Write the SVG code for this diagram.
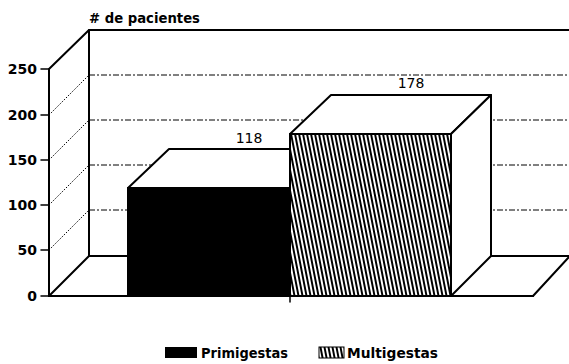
<svg xmlns="http://www.w3.org/2000/svg" width="569" height="364" viewBox="0 0 569 364">
<style>
.solid{stroke:#000;stroke-width:2;fill:none;stroke-linecap:round;stroke-linejoin:round}
.grid{stroke:#000;stroke-width:1;stroke-dasharray:6 2 2 2;fill:none}
.dot{stroke:#000;stroke-width:1;stroke-dasharray:1.5 1.5;fill:none}
.tick{font-family:"DejaVu Sans",sans-serif;font-weight:bold;font-size:14px;text-anchor:end;fill:#000}
.val{font-family:"DejaVu Sans",sans-serif;font-size:14px;text-anchor:middle;fill:#000}
.leg{font-family:"DejaVu Sans",sans-serif;font-weight:bold;font-size:13.5px;fill:#000}
</style>
<defs>
<pattern id="hatch" patternUnits="userSpaceOnUse" width="4" height="40" patternTransform="skewX(11)">
<rect x="0" y="0" width="4" height="40" fill="#fff"/>
<rect x="0" y="0" width="2" height="40" fill="#000"/>
</pattern>
</defs>
<rect width="569" height="364" fill="#fff"/>
<g id="grid">
<line class="grid" x1="89" y1="75" x2="569" y2="75"/>
<line class="grid" x1="89" y1="120" x2="569" y2="120"/>
<line class="grid" x1="89" y1="165" x2="569" y2="165"/>
<line class="grid" x1="89" y1="210" x2="569" y2="210"/>
<line class="dot" x1="49" y1="115" x2="89" y2="75"/>
<line class="dot" x1="49" y1="160" x2="89" y2="120"/>
<line class="dot" x1="49" y1="205" x2="89" y2="165"/>
<line class="dot" x1="49" y1="250" x2="89" y2="210"/>
</g>
<g id="axes">
<polyline class="solid" points="49,296 49,69 89,30 569,30"/>
<line class="solid" x1="89" y1="30" x2="89" y2="256"/>
<line class="solid" x1="89" y1="256" x2="569" y2="256"/>
<line class="solid" x1="49" y1="296" x2="89" y2="256"/>
<line class="solid" x1="49" y1="296" x2="533" y2="296"/>
<line class="solid" x1="533" y1="296" x2="569" y2="257"/>
<line class="solid" x1="290" y1="296" x2="290" y2="302" style="stroke-width:1.5"/>
<g class="solid" style="stroke-width:1.5">
<line x1="41" y1="69" x2="49" y2="69"/>
<line x1="41" y1="115" x2="49" y2="115"/>
<line x1="41" y1="160" x2="49" y2="160"/>
<line x1="41" y1="205" x2="49" y2="205"/>
<line x1="41" y1="250" x2="49" y2="250"/>
<line x1="41" y1="296" x2="49" y2="296"/>
</g>
<text class="tick" x="37" y="74">250</text>
<text class="tick" x="37" y="120">200</text>
<text class="tick" x="37" y="165">150</text>
<text class="tick" x="37" y="210">100</text>
<text class="tick" x="37" y="255">50</text>
<text class="tick" x="37" y="301">0</text>
<text x="89" y="23" textLength="111" lengthAdjust="spacingAndGlyphs" style="font-family:'DejaVu Sans',sans-serif;font-weight:bold;font-size:13.5px">
# de pacientes</text>
</g>
<g id="bar-primigestas">
<polygon points="128,188 169,149 290,149 290,188" fill="#fff" stroke="#000" stroke-width="2" stroke-linejoin="round"/>
<rect x="128" y="188" width="162" height="108" fill="#000" stroke="#000" stroke-width="2"/>
<text class="val" x="249" y="143">118</text>
</g>
<g id="bar-multigestas">
<polygon points="290,134 331,95 491,95 451,134" fill="#fff" stroke="#000" stroke-width="2" stroke-linejoin="round"/>
<polygon points="451,134 491,95 491,256 451,296" fill="#fff" stroke="#000" stroke-width="2" stroke-linejoin="round"/>
<rect x="290" y="134" width="161" height="162" fill="url(#hatch)" stroke="#000" stroke-width="2"/>
<text class="val" x="411" y="88">178</text>
</g>
<g id="legend">
<rect x="165" y="347" width="32" height="11" fill="#000"/>
<text class="leg" x="201" y="358" textLength="87" lengthAdjust="spacingAndGlyphs">Primigestas</text>
<rect x="319" y="347" width="25" height="11" fill="url(#hatch)" stroke="#000" stroke-width="1"/>
<text class="leg" x="347" y="358" textLength="91" lengthAdjust="spacingAndGlyphs">Multigestas</text>
</g>
</svg>
